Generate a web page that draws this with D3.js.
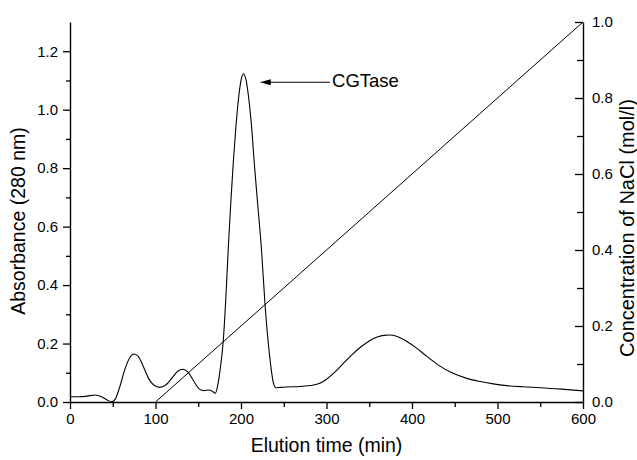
<!DOCTYPE html>
<html>
<head>
<meta charset="utf-8">
<script src="https://cdn.jsdelivr.net/npm/d3@7"></script>
<style>
  html, body { margin: 0; padding: 0; background: #fff; }
  svg { display: block; font-family: "Liberation Sans", Arial, Helvetica, sans-serif; }
</style>
</head>
<body>
<svg id="chart" width="637" height="460"></svg>
<script>
// ---- data ----
const elutionTime = [0,10,20,29,37,44,49,53,58,64,70,75,80,86,92,98,105,112,120,126,132,138,145,151,157,162,166,170,173,176,179,182,185,188,191,194,197,200,203,206,209,212,216,220,224,228,234,238,241,246,260,275,285,293,300,310,320,330,340,350,360,367,374,382,394,405,417,430,448,465,480,495,511,530,550,575,600];
const absorbance = [0.018,0.018,0.02,0.024,0.018,0.006,0.001,0.01,0.05,0.11,0.152,0.164,0.155,0.12,0.08,0.058,0.05,0.058,0.085,0.105,0.112,0.102,0.07,0.045,0.039,0.041,0.038,0.03,0.06,0.12,0.2,0.34,0.52,0.68,0.82,0.94,1.035,1.1,1.123,1.1,1.04,0.954,0.8,0.66,0.52,0.338,0.144,0.064,0.049,0.05,0.052,0.055,0.058,0.065,0.078,0.103,0.133,0.162,0.188,0.209,0.223,0.228,0.229,0.225,0.207,0.185,0.157,0.128,0.098,0.08,0.07,0.062,0.056,0.052,0.049,0.044,0.038];
const gradientTime = [100, 600];
const naclConc = [0.0, 1.0];

const xTicks = [0,100,200,300,400,500,600];
const xMinorTicks = [50,150,250,350,450,550];
const yLeftTicks = [0.0,0.2,0.4,0.6,0.8,1.0,1.2];
const yLeftMinorTicks = [0.1,0.3,0.5,0.7,0.9,1.1];
const yRightTicks = [0.0,0.2,0.4,0.6,0.8,1.0];
const yRightMinorTicks = [0.1,0.3,0.5,0.7,0.9];

const xTitle = "Elution time (min)";
const yLeftTitle = "Absorbance (280 nm)";
const yRightTitle = "Concentration of NaCl (mol/l)";
const annotationLabel = "CGTase";
const annotationTip = [222, 1.094];   // data coords (time, absorbance)
const annotationTail = [304, 1.094];
const annotationText = [306.5, 1.079];

// ---- layout ----
const W = 637, H = 460;
const margin = {left: 70, right: 54, top: 22, bottom: 58};
const svg = d3.select("#chart");

const x = d3.scaleLinear().domain([0, 600]).range([margin.left, W - margin.right]);
const yL = d3.scaleLinear().domain([0, 1.3]).range([H - margin.bottom, margin.top]);
const yR = d3.scaleLinear().domain([0, 1.0]).range([H - margin.bottom, margin.top]);

const fmt1 = d3.format(".1f");
const tickFont = "15px";
const titleFont = "19.5px";

function styleAxis(g) {
  g.selectAll("path.domain").attr("stroke", "#000").attr("stroke-width", 1.4);
  g.selectAll(".tick line").attr("stroke", "#000").attr("stroke-width", 1.3);
  g.selectAll(".tick text").attr("fill", "#000").style("font-size", tickFont)
    .style("font-family", "'Liberation Sans', Arial, sans-serif");
}

// bottom axis
svg.append("g").attr("transform", `translate(0,${H - margin.bottom})`)
  .call(d3.axisBottom(x).tickValues(xMinorTicks).tickSize(5).tickFormat(""))
  .call(g => g.select(".domain").remove())
  .call(styleAxis);
svg.append("g").attr("transform", `translate(0,${H - margin.bottom})`)
  .call(d3.axisBottom(x).tickValues(xTicks).tickSize(7).tickSizeOuter(0).tickPadding(4).tickFormat(d3.format("d")))
  .call(styleAxis);

// left axis
svg.append("g").attr("transform", `translate(${margin.left},0)`)
  .call(d3.axisLeft(yL).tickValues(yLeftMinorTicks).tickSize(4).tickFormat(""))
  .call(g => g.select(".domain").remove())
  .call(styleAxis);
svg.append("g").attr("transform", `translate(${margin.left},0)`)
  .call(d3.axisLeft(yL).tickValues(yLeftTicks).tickSize(7).tickSizeOuter(0).tickPadding(5).tickFormat(fmt1))
  .call(styleAxis);

// right axis (ticks point inward)
svg.append("g").attr("transform", `translate(${W - margin.right},0)`)
  .call(d3.axisRight(yR).tickValues(yRightMinorTicks).tickSize(-6).tickFormat(""))
  .call(g => g.select(".domain").remove())
  .call(styleAxis);
svg.append("g").attr("transform", `translate(${W - margin.right},0)`)
  .call(d3.axisRight(yR).tickValues(yRightTicks).tickSize(-8).tickSizeOuter(0).tickPadding(9).tickFormat(fmt1))
  .call(styleAxis);

// series: absorbance
const absData = elutionTime.map((t, i) => [t, absorbance[i]]);
svg.append("path").datum(absData)
  .attr("fill", "none").attr("stroke", "#000").attr("stroke-width", 1.1)
  .attr("d", d3.line().x(d => x(d[0])).y(d => yL(d[1])).curve(d3.curveMonotoneX));

// series: NaCl gradient
const naclData = gradientTime.map((t, i) => [t, naclConc[i]]);
svg.append("path").datum(naclData)
  .attr("fill", "none").attr("stroke", "#000").attr("stroke-width", 1)
  .attr("d", d3.line().x(d => x(d[0])).y(d => yR(d[1])));

// annotation arrow
const tipX = x(annotationTip[0]), tipY = yL(annotationTip[1]);
svg.append("line")
  .attr("x1", x(annotationTail[0])).attr("y1", yL(annotationTail[1]))
  .attr("x2", tipX + 8).attr("y2", tipY)
  .attr("stroke", "#000").attr("stroke-width", 1.1);
svg.append("path")
  .attr("d", `M${tipX},${tipY} L${tipX + 11},${tipY - 3} L${tipX + 11},${tipY + 3} Z`)
  .attr("fill", "#000");
svg.append("text")
  .attr("x", x(annotationText[0])).attr("y", yL(annotationText[1]))
  .style("font-size", "18.5px").attr("fill", "#000")
  .text(annotationLabel);

// titles
svg.append("text")
  .attr("x", (x.range()[0] + x.range()[1]) / 2).attr("y", 452)
  .attr("text-anchor", "middle").style("font-size", titleFont)
  .text(xTitle);
svg.append("text")
  .attr("transform", `translate(25,${(yL.range()[0] + yL.range()[1]) / 2 + 9}) rotate(-90)`)
  .attr("text-anchor", "middle").style("font-size", titleFont)
  .text(yLeftTitle);
svg.append("text")
  .attr("transform", `translate(634,${(yR.range()[0] + yR.range()[1]) / 2 + 16}) rotate(-90)`)
  .attr("text-anchor", "middle").style("font-size", "20px")
  .text(yRightTitle);
</script>
</body>
</html>
